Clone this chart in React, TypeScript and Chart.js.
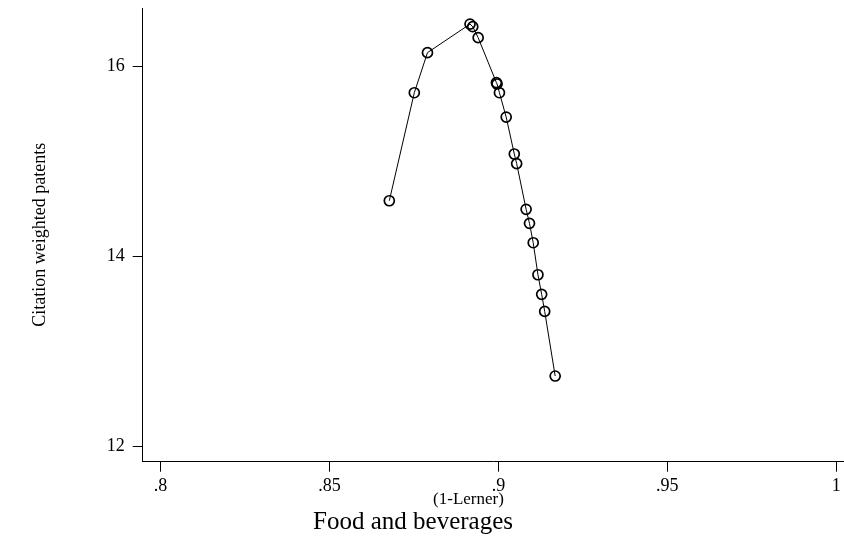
import React, { useEffect, useRef } from "react";
import { Chart, registerables } from "chart.js";

Chart.register(...registerables);

const lernerValues = [
  0.8677, 0.8751, 0.879, 0.8916, 0.8924, 0.894, 0.8994, 0.8996, 0.9003, 0.9023,
  0.9047, 0.9054, 0.9082, 0.9092, 0.9103, 0.9117, 0.9128, 0.9137, 0.9168,
];
const patentValues = [
  14.585, 15.722, 16.144, 16.445, 16.417, 16.302, 15.829, 15.814, 15.722, 15.466,
  15.077, 14.976, 14.495, 14.347, 14.143, 13.806, 13.6, 13.42, 12.74,
];
const xTickValues = [0.8, 0.85, 0.9, 0.95, 1];
const xTickLabels = [".8", ".85", ".9", ".95", "1"];
const yTickValues = [12, 14, 16];
const yTickLabels = ["12", "14", "16"];

const X_TITLE = "(1-Lerner)";
const Y_TITLE = "Citation weighted patents";
const CHART_TITLE = "Food and beverages";

const FONT = "'Liberation Serif', 'Times New Roman', serif";

function zeroPadding(scale: any) {
  scale.paddingTop = 0;
  scale.paddingBottom = 0;
  scale.paddingLeft = 0;
  scale.paddingRight = 0;
}

// Re-centre the bottom titles the way the original (Stata) layout does.
const titleCentering = {
  id: "titleCentering",
  afterLayout(chart: any) {
    for (const box of chart.boxes) {
      const text = box && box.options ? box.options.text : undefined;
      if (text === CHART_TITLE) {
        box.left = 0;
        box.right = 826;
      } else if (text === X_TITLE) {
        box.left = 93;
        box.right = 844;
      }
    }
  },
};

export default function App() {
  const canvasRef = useRef<HTMLCanvasElement | null>(null);

  useEffect(() => {
    if (!canvasRef.current) return;
    const points = lernerValues.map((x, i) => ({ x, y: patentValues[i] }));
    const chart = new Chart(canvasRef.current, {
      type: "scatter",
      data: {
        datasets: [
          {
            data: points,
            showLine: true,
            borderColor: "#000",
            borderWidth: 1,
            pointRadius: 5,
            pointBorderWidth: 1.7,
            pointBorderColor: "#000",
            pointBackgroundColor: "rgba(0,0,0,0)",
          },
        ],
      },
      plugins: [titleCentering],
      options: {
        animation: false,
        responsive: false,
        maintainAspectRatio: false,
        devicePixelRatio: 1,
        layout: { autoPadding: false, padding: { left: 0, right: 0, top: 8, bottom: 0 } },
        plugins: {
          legend: { display: false },
          tooltip: { enabled: false },
          title: {
            display: true,
            position: "bottom",
            text: CHART_TITLE,
            color: "#000",
            font: { family: FONT, size: 25, weight: "normal", lineHeight: 1.1 },
            padding: { top: 0, bottom: 0 },
          },
          subtitle: {
            display: true,
            position: "bottom",
            text: X_TITLE,
            color: "#000",
            font: { family: FONT, size: 17, weight: "normal", lineHeight: 1.0 },
            padding: { top: 0, bottom: 0 },
          },
        },
        scales: {
          x: {
            type: "linear",
            min: 0.7947,
            max: 1.0023,
            afterBuildTicks: (scale: any) => {
              scale.ticks = xTickValues.map((v) => ({ value: v }));
            },
            afterFit: (scale: any) => {
              scale.height = 29.8;
              zeroPadding(scale);
            },
            ticks: {
              color: "#000",
              font: { family: FONT, size: 18 },
              padding: 4,
              maxRotation: 0,
              autoSkip: false,
              callback: (_v: any, i: number) => xTickLabels[i],
            },
            grid: {
              display: true,
              drawOnChartArea: false,
              drawTicks: true,
              tickLength: 10,
              color: "#000",
              lineWidth: 1,
            },
            border: { display: true, color: "#000", width: 1 },
            title: { display: false },
          },
          y: {
            type: "linear",
            min: 11.838,
            max: 16.614,
            afterBuildTicks: (scale: any) => {
              scale.ticks = yTickValues.map((v) => ({ value: v }));
            },
            afterFit: (scale: any) => {
              scale.width = 142.7;
              zeroPadding(scale);
            },
            ticks: {
              color: "#000",
              font: { family: FONT, size: 18 },
              padding: 8,
              autoSkip: false,
              callback: (_v: any, i: number) => yTickLabels[i],
            },
            grid: {
              display: true,
              drawOnChartArea: false,
              drawTicks: true,
              tickLength: 10,
              color: "#000",
              lineWidth: 1,
            },
            border: { display: true, color: "#000", width: 1 },
            title: {
              display: true,
              text: Y_TITLE,
              color: "#000",
              font: { family: FONT, size: 18, lineHeight: 1.2 },
              padding: { top: 29, bottom: 0 },
            },
          },
        },
      },
    });
    return () => chart.destroy();
  }, []);

  return (
    <div style={{ position: "absolute", left: 0, top: 0, width: 844, height: 536, background: "#fff", overflow: "hidden" }}>
      <canvas ref={canvasRef} width={844} height={536} style={{ display: "block", width: 844, height: 536 }} />
    </div>
  );
}
